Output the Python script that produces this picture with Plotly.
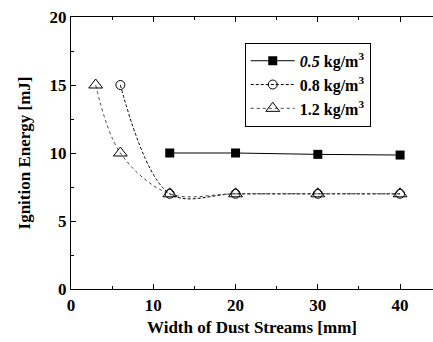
import plotly.graph_objects as go

# Data
x_05 = [12, 20, 30, 40]
y_05 = [10.0, 10.0, 9.9, 9.85]
x_08 = [6, 12, 20, 30, 40]
y_08 = [15, 7, 7, 7, 7]
x_12 = [3, 6, 12, 20, 30, 40]
y_12 = [15, 10, 7, 7, 7, 7]
names = ["<i>0.5</i> kg/m<sup>3</sup>", "0.8 kg/m<sup>3</sup>", "1.2 kg/m<sup>3</sup>"]
x_ticks = [0, 10, 20, 30, 40]
y_ticks = [0, 5, 10, 15, 20]

FONT = "Liberation Serif"

fig = go.Figure()
fig.add_trace(go.Scatter(
    x=x_05, y=y_05, name=names[0], mode="lines+markers",
    line=dict(color="black", width=1),
    marker=dict(symbol="square", size=9, color="black"),
))
fig.add_trace(go.Scatter(
    x=x_08, y=y_08, name=names[1], mode="lines+markers",
    line=dict(color="black", width=1, dash="3px,2px", shape="spline", smoothing=1.0),
    marker=dict(symbol="circle-open", size=9, color="black", line=dict(width=1)),
))
fig.add_trace(go.Scatter(
    x=x_12, y=y_12, name=names[2], mode="lines+markers",
    line=dict(color="#444", width=1, dash="dot", shape="spline", smoothing=1.0),
    marker=dict(symbol="triangle-up-open", size=12, color="black", line=dict(width=1)),
))

fig.update_layout(
    width=433, height=342,
    margin=dict(l=71, r=0, t=17, b=53),
    paper_bgcolor="white", plot_bgcolor="white",
    font=dict(family=FONT, size=14, color="black"),
    showlegend=True,
    legend=dict(
        x=0.48, y=0.905, xanchor="left", yanchor="top",
        bordercolor="black", borderwidth=1, bgcolor="white",
        font=dict(family=FONT, size=16, color="black", weight="bold"),
        itemwidth=44,
    ),
)
fig.update_xaxes(
    range=[0, 44], tickmode="array", tickvals=x_ticks,
    ticktext=[f"<b>{v}</b>" for v in x_ticks],
    showgrid=False, zeroline=False,
    showline=True, linecolor="black", linewidth=1.2, mirror="ticks",
    ticks="inside", ticklen=5, tickcolor="black",
    minor=dict(dtick=5, tick0=0, ticks="inside", ticklen=3, tickcolor="black"),
    tickfont=dict(family=FONT, size=17, weight="bold"),
    title=dict(text="<b>Width of Dust Streams [mm]</b>", standoff=7,
               font=dict(family=FONT, size=17, weight="bold")),
)
fig.update_yaxes(
    range=[0, 20], tickmode="array", tickvals=y_ticks,
    ticktext=[f"<b>{v}</b>" for v in y_ticks],
    showgrid=False, zeroline=False,
    showline=True, linecolor="black", linewidth=1.2, mirror=False,
    ticks="inside", ticklen=5, tickcolor="black",
    minor=dict(dtick=2.5, tick0=0, ticks="inside", ticklen=3, tickcolor="black"),
    tickfont=dict(family=FONT, size=17, weight="bold"),
    title=dict(text="<b>Ignition Energy [mJ]</b>", standoff=14,
               font=dict(family=FONT, size=17, weight="bold")),
)

fig.write_html("out.html")
